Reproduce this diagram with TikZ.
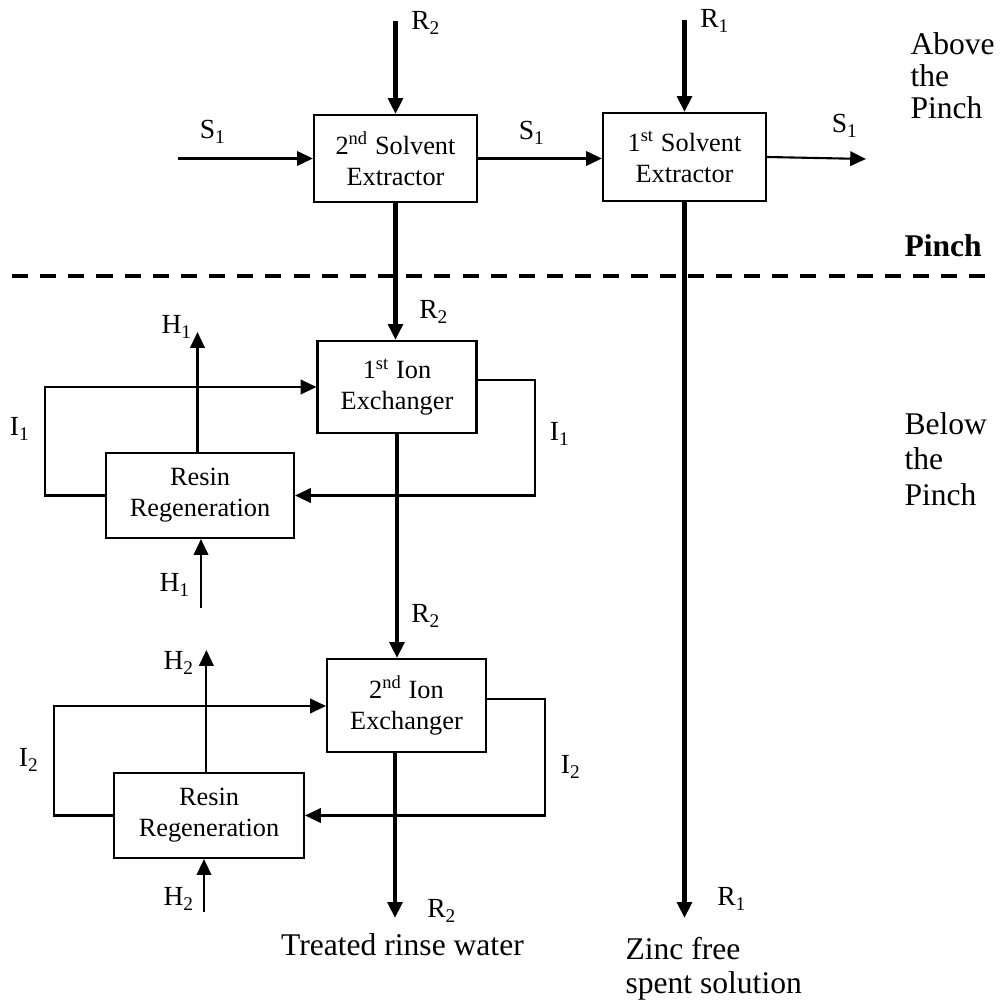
\documentclass[tikz,border=0pt]{standalone}
\usepackage{fontspec}
\setmainfont{Liberation Serif}
\usetikzlibrary{arrows.meta}

\begin{document}
\begin{tikzpicture}[x=0.38pt, y=-0.38pt,
        unit/.style={draw, line width=0.8pt, align=center, inner sep=0pt, font=\fontsize{10}{11.8}\selectfont},
        flow/.style={line width=0.8pt, -{Triangle[length=6pt, width=5.5pt]}},
        thickflow/.style={line width=1.6pt, -{Triangle[length=6pt, width=5.5pt]}},
        lbl/.style={font=\fontsize{10.5}{12}\selectfont, inner sep=0pt},
        side/.style={font=\fontsize{12}{13.5}\selectfont, align=left, inner sep=0pt}]
        \useasboundingbox (0,0) rectangle (1006,1002);

        % Draw the solvent extractors
        \node[unit, minimum width=62pt, minimum height=33pt] (sx2) at (395.5,158.5) {2\textsuperscript{nd} Solvent\\Extractor};
        \node[unit, minimum width=62pt, minimum height=33.4pt] (sx1) at (684.5,157) {1\textsuperscript{st} Solvent\\Extractor};

        % Draw the ion exchangers and the resin regeneration units
        \node[unit, minimum width=60.4pt, minimum height=35pt] (ix1) at (397,387) {1\textsuperscript{st} Ion\\Exchanger};
        \node[unit, minimum width=60.4pt, minimum height=35.3pt] (ix2) at (406.5,705.5) {2\textsuperscript{nd} Ion\\Exchanger};
        \node[unit, minimum width=71.4pt, minimum height=32.3pt] (rr1) at (200,495.5) {Resin\\Regeneration};
        \node[unit, minimum width=72.2pt, minimum height=32.3pt] (rr2) at (209,815.5) {Resin\\Regeneration};

        % Free ends of the streams
        \coordinate (r2in) at (395.5,21);
        \coordinate (r1in) at (684.5,20);
        \coordinate (s1in) at (178,158.5);
        \coordinate (s1out) at (866,159);
        \coordinate (r2out) at (395,918);
        \coordinate (r1out) at (684.5,918);
        \coordinate (h1out) at (197.5,332);
        \coordinate (h1in) at (201,608);
        \coordinate (h2out) at (206.4,650);
        \coordinate (h2in) at (204,912);
        \coordinate (i1left) at (44.6,387);
        \coordinate (i1right) at (535,380);
        \coordinate (i2left) at (53.6,706);
        \coordinate (i2right) at (544.6,699);

        % Draw the pinch line
        \draw[line width=1.5pt, dash pattern=on 6.1pt off 4.6pt] (12,276) -- (992,276);

        % Draw the rinse water and spent solution streams
        \draw[thickflow] (r2in) -- (sx2.north);
        \draw[thickflow] (r1in) -- (sx1.north);
        \draw[thickflow] (sx2.south) -- (sx2.south |- ix1.north);
        \draw[thickflow] (sx1.south) -- (r1out);
        \draw[thickflow] (ix1.south) -- (ix1.south |- ix2.north);
        \draw[thickflow] (r2out |- ix2.south) -- (r2out);

        % Draw the solvent stream
        \draw[flow] (s1in) -- (sx2.west);
        \draw[flow] (sx2.east) -- (sx2.east -| sx1.west);
        \draw[flow] (sx1.east) -- (s1out);

        % Draw the resin loops and regenerant streams
        \draw[flow] (rr1.north -| h1out) -- (h1out);
        \draw[flow] (h1in) -- (h1in |- rr1.south);
        \draw[flow] (rr1.west) -| (i1left) -- (i1left -| ix1.west);
        \draw[flow] (ix1.east |- i1right) -- (i1right) |- (rr1.east);
        \draw[flow] (rr2.north -| h2out) -- (h2out);
        \draw[flow] (h2in) -- (h2in |- rr2.south);
        \draw[flow] (rr2.west) -| (i2left) -- (i2left -| ix2.west);
        \draw[flow] (ix2.east |- i2right) -- (i2right) |- (rr2.east);

        % Label the streams
        \node[lbl] (lr2top) at (426,23) {R\textsubscript{2}};
        \node[lbl] (lr1top) at (715,21) {R\textsubscript{1}};
        \node[lbl] (ls1in) at (213,132) {S\textsubscript{1}};
        \node[lbl] (ls1mid) at (532,133) {S\textsubscript{1}};
        \node[lbl] (ls1out) at (845,126) {S\textsubscript{1}};
        \node[lbl] (lr2a) at (434,312) {R\textsubscript{2}};
        \node[lbl] (lh1out) at (177,327) {H\textsubscript{1}};
        \node[lbl] (lh1in) at (175,585) {H\textsubscript{1}};
        \node[lbl] (li1left) at (20,429) {I\textsubscript{1}};
        \node[lbl] (li1right) at (560,434) {I\textsubscript{1}};
        \node[lbl] (lr2b) at (426,616) {R\textsubscript{2}};
        \node[lbl] (lh2out) at (179,663) {H\textsubscript{2}};
        \node[lbl] (lh2in) at (179,899) {H\textsubscript{2}};
        \node[lbl] (li2left) at (29,760) {I\textsubscript{2}};
        \node[lbl] (li2right) at (571,767) {I\textsubscript{2}};
        \node[lbl] (lr2out) at (442,911) {R\textsubscript{2}};
        \node[lbl] (lr1out) at (732,899) {R\textsubscript{1}};

        % Region and product texts
        \node[side, anchor=north west, font=\fontsize{12}{12.2}\selectfont] (above) at (910,32) {Above\\the\\Pinch};
        \node[font=\bfseries\fontsize{12}{13.5}\selectfont, anchor=base west, inner sep=0pt] (pinch) at (904,257) {Pinch};
        \node[side, anchor=north west] (below) at (904,412) {Below\\the\\Pinch};
        \node[font=\fontsize{12}{14}\selectfont, anchor=base, inner sep=0pt] (treated) at (402.5,956) {Treated rinse water};
        \node[side, anchor=north west, font=\fontsize{12}{13}\selectfont] (zinc) at (625,937) {Zinc free\\spent solution};

    \end{tikzpicture}
\end{document}
